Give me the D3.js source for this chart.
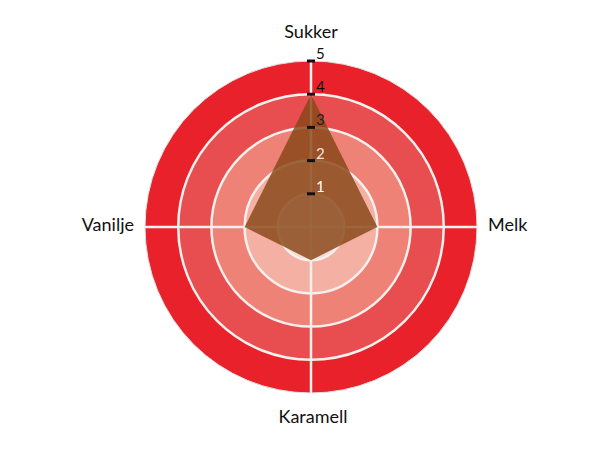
<!DOCTYPE html>
<html>
<head>
<meta charset="utf-8">
<script src="https://cdn.jsdelivr.net/npm/d3@7"></script>
<style>
  body { margin: 0; background: #fff; }
  svg { display: block; font-family: Lato, "Open Sans", sans-serif; }
</style>
</head>
<body>
<div id="chart"></div>
<script>
// Axes and values of the radar
const categories = ["Sukker", "Melk", "Karamell", "Vanilje"];
const values = [4, 2, 1, 2];
const tickValues = [1, 2, 3, 4, 5];
const tickColors = ["#fff", "#f3e6df", "#222", "#111", "#111"];
// Bands from inside out
const bandColors = ["#f6d9d2", "#f5b0a4", "#ef8276", "#e84e50", "#e8212b"];

const width = 610, height = 450;
const cx = 311, cy = 227;

const r = d3.scaleLinear().domain([0, 5]).range([0, 166]);
const angle = d3.scaleBand().domain(categories).range([0, 2 * Math.PI]);

const svg = d3.select("#chart")
  .append("svg")
  .attr("width", width)
  .attr("height", height);

const g = svg.append("g").attr("transform", `translate(${cx},${cy})`);

//Bands, biggest first so smaller ones sit on top
g.selectAll("circle.band")
  .data(d3.range(5).reverse())
  .enter()
  .append("circle")
  .attr("class", "band")
  .attr("r", i => r(i + 1))
  .attr("fill", i => bandColors[i])
  .attr("stroke", i => i === 4 ? "#ddd" : "none")
  .attr("stroke-width", 1);

//White grid circles
g.selectAll("circle.grid")
  .data(tickValues.slice(0, 4))
  .enter()
  .append("circle")
  .attr("class", "grid")
  .attr("r", d => r(d))
  .attr("fill", "none")
  .attr("stroke", "#f4f0ee")
  .attr("stroke-width", 2.5);

//Spokes
const point = (cat, v) => {
  const a = angle(cat);
  return [Math.sin(a) * r(v), -Math.cos(a) * r(v)];
};

g.selectAll("line.spoke")
  .data(categories)
  .enter()
  .append("line")
  .attr("class", "spoke")
  .attr("x1", 0).attr("y1", 0)
  .attr("x2", d => point(d, 5)[0])
  .attr("y2", d => point(d, 5)[1])
  .attr("stroke", "#f4f0ee")
  .attr("stroke-width", 2.5);

//Data polygon
g.append("polygon")
  .attr("points", categories.map((c, i) => point(c, values[i]).join(",")).join(" "))
  .attr("fill", "rgb(136,70,22)")
  .attr("fill-opacity", 0.82);

//Tick marks and labels on the top axis
g.selectAll("rect.tick")
  .data(tickValues)
  .enter()
  .append("rect")
  .attr("class", "tick")
  .attr("x", -4)
  .attr("y", d => -r(d) - 1.5)
  .attr("width", 8)
  .attr("height", 3)
  .attr("fill", "#111");

g.selectAll("text.tick")
  .data(tickValues)
  .enter()
  .append("text")
  .attr("class", "tick")
  .attr("x", 5)
  .attr("y", d => -r(d) - 2)
  .attr("font-size", 15)
  .attr("fill", (d, i) => tickColors[i])
  .text(d => d);

//Category labels
const labelPos = {
  Sukker: { x: 0, y: -189, anchor: "middle" },
  Melk: { x: 177, y: 4, anchor: "start" },
  Karamell: { x: 2, y: 196, anchor: "middle" },
  Vanilje: { x: -177, y: 4, anchor: "end" }
};

g.selectAll("text.label")
  .data(categories)
  .enter()
  .append("text")
  .attr("class", "label")
  .attr("x", d => labelPos[d].x)
  .attr("y", d => labelPos[d].y)
  .attr("text-anchor", d => labelPos[d].anchor)
  .attr("font-size", 18)
  .attr("fill", "#111")
  .text(d => d);
</script>
</body>
</html>
